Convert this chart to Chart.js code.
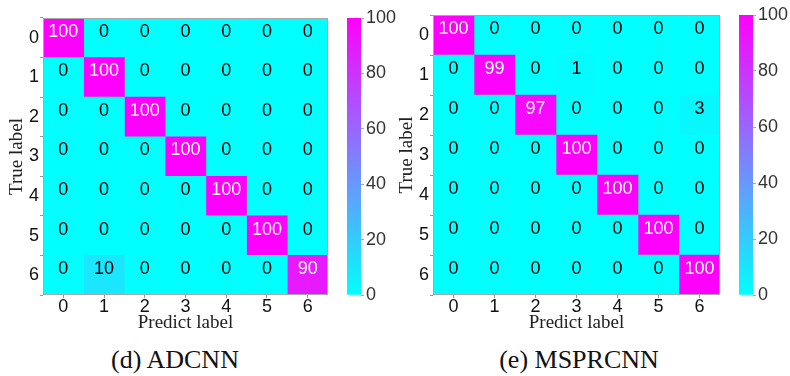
<!DOCTYPE html>
<html lang="en">
<head>
<meta charset="UTF-8">
<title>Confusion Matrices</title>
<script src="https://cdn.jsdelivr.net/npm/chart.js"></script>
<style>
  body { margin: 0; background: #fff; width: 790px; height: 376px; position: relative; overflow: hidden; }
  canvas { position: absolute; top: 0; }
  .caption {
    position: absolute; top: 347px; line-height: 26px;
    font-family: "Liberation Serif", "Times New Roman", serif; font-size: 26px; color: #111;
    transform: translateX(-50%); white-space: nowrap;
  }
</style>
</head>
<body>
<canvas id="cmAdcnn" width="331" height="335" style="left:0"></canvas>
<canvas id="cbAdcnn" width="60" height="300" style="left:347px"></canvas>
<canvas id="cmMsprcnn" width="333" height="335" style="left:390px"></canvas>
<canvas id="cbMsprcnn" width="60" height="300" style="left:739px"></canvas>
<div class="caption" style="left:175px">(d) ADCNN</div>
<div class="caption" style="left:579px">(e) MSPRCNN</div>
<script>
// class names (rows = true label, columns = predicted label)
const classLabels = ['0', '1', '2', '3', '4', '5', '6'];

// confusion matrix, ADCNN (%)
const adcnnMatrix = [
  [100, 0, 0, 0, 0, 0, 0],
  [0, 100, 0, 0, 0, 0, 0],
  [0, 0, 100, 0, 0, 0, 0],
  [0, 0, 0, 100, 0, 0, 0],
  [0, 0, 0, 0, 100, 0, 0],
  [0, 0, 0, 0, 0, 100, 0],
  [0, 10, 0, 0, 0, 0, 90]
];

// confusion matrix, MSPRCNN (%)
const msprcnnMatrix = [
  [100, 0, 0, 0, 0, 0, 0],
  [0, 99, 0, 1, 0, 0, 0],
  [0, 0, 97, 0, 0, 0, 3],
  [0, 0, 0, 100, 0, 0, 0],
  [0, 0, 0, 0, 100, 0, 0],
  [0, 0, 0, 0, 0, 100, 0],
  [0, 0, 0, 0, 0, 0, 100]
];

// colour bar ticks
const colorbarTicks = [0, 20, 40, 60, 80, 100];

const sansFont = '"Liberation Sans", Arial, sans-serif';
const serifFont = '"Liberation Serif", "Times New Roman", serif';

// "cool" colormap: cyan -> magenta
function coolColor(v) {
  const t = v / 100;
  return `rgb(${Math.round(255 * t)}, ${Math.round(255 * (1 - t))}, 255)`;
}

// writes the value in each cell and draws the frame
const cellLabels = {
  id: 'cellLabels',
  afterDatasetsDraw(chart) {
    const ctx = chart.ctx;
    ctx.save();
    ctx.font = '18px ' + sansFont;
    ctx.textAlign = 'center';
    ctx.textBaseline = 'middle';
    chart.data.datasets.forEach((ds, j) => {
      chart.getDatasetMeta(j).data.forEach((bar, i) => {
        const v = ds.values[i];
        const p = bar.getCenterPoint();
        ctx.fillStyle = v > 50 ? '#fff' : '#000';
        ctx.fillText(String(v), p.x, p.y - 6);
      });
    });
    const a = chart.chartArea;
    ctx.strokeStyle = '#a8a8a8';
    ctx.lineWidth = 1;
    ctx.strokeRect(a.left + 0.5, a.top + 0.5, a.width - 1, a.height - 1);
    ctx.restore();
  }
};

function makeHeatmap(id, matrix, top) {
  // one dataset per predicted column, each cell a floating bar across the column
  const datasets = classLabels.map((_, j) => ({
    data: matrix.map(() => [j - 0.5, j + 0.5]),
    values: matrix.map(row => row[j]),
    backgroundColor: matrix.map(row => coolColor(row[j])),
    grouped: false,
    barPercentage: 1,
    categoryPercentage: 1,
    borderWidth: 0
  }));

  new Chart(document.getElementById(id), {
    type: 'bar',
    data: { labels: classLabels, datasets },
    plugins: [cellLabels],
    options: {
      responsive: false,
      animation: false,
      indexAxis: 'y',
      layout: { padding: { top: top, right: 3, left: 0, bottom: 0 } },
      plugins: { legend: { display: false }, tooltip: { enabled: false } },
      scales: {
        x: {
          type: 'linear',
          min: -0.5,
          max: classLabels.length - 0.5,
          afterBuildTicks: s => { s.ticks = classLabels.map((_, i) => ({ value: i })); },
          afterFit: s => { s.height = 40; },
          ticks: { callback: v => classLabels[v], font: { family: sansFont, size: 18 }, color: '#111', padding: -2, maxRotation: 0 },
          grid: { drawOnChartArea: false, tickLength: 3, color: '#999' },
          border: { display: false },
          title: { display: true, text: 'Predict label', font: { family: serifFont, size: 19 }, color: '#222', padding: { top: 0, bottom: 1 } }
        },
        y: {
          type: 'category',
          afterFit: s => { s.width = 43; },
          ticks: { font: { family: sansFont, size: 18 }, color: '#111', padding: 1 },
          grid: { drawOnChartArea: false, tickLength: 3, color: '#999' },
          border: { display: false },
          title: { display: true, text: 'True label', font: { family: serifFont, size: 19 }, color: '#222', padding: { top: 6, bottom: 0 } }
        }
      }
    }
  });
}

function makeColorbar(id, top) {
  const lo = colorbarTicks[0];
  const hi = colorbarTicks[colorbarTicks.length - 1];
  new Chart(document.getElementById(id), {
    type: 'bar',
    data: {
      labels: [''],
      datasets: [{
        data: [[lo, hi]],
        backgroundColor: c => {
          const a = c.chart.chartArea;
          if (!a) return coolColor(50);
          const g = c.chart.ctx.createLinearGradient(0, a.bottom, 0, a.top);
          g.addColorStop(0, coolColor(lo));
          g.addColorStop(1, coolColor(hi));
          return g;
        },
        barPercentage: 1,
        categoryPercentage: 1,
        borderWidth: 0
      }]
    },
    options: {
      responsive: false,
      animation: false,
      layout: { padding: { top: top, bottom: 5, left: 0, right: 0 } },
      plugins: { legend: { display: false }, tooltip: { enabled: false } },
      scales: {
        x: { display: false },
        y: {
          position: 'right',
          min: lo,
          max: hi,
          afterBuildTicks: s => { s.ticks = colorbarTicks.map(v => ({ value: v })); },
          // keep the bar the full height; end labels spill into the padding
          afterFit: s => { s.width = 46; s.paddingTop = 0; s.paddingBottom = 0; },
          ticks: { font: { family: sansFont, size: 18 }, color: '#333', padding: 2 },
          grid: { drawOnChartArea: false, tickLength: 3, color: '#aaa' },
          border: { display: false }
        }
      }
    }
  });
}

makeHeatmap('cmAdcnn', adcnnMatrix, 18);
makeColorbar('cbAdcnn', 18);
makeHeatmap('cmMsprcnn', msprcnnMatrix, 15);
makeColorbar('cbMsprcnn', 15);
</script>
</body>
</html>
